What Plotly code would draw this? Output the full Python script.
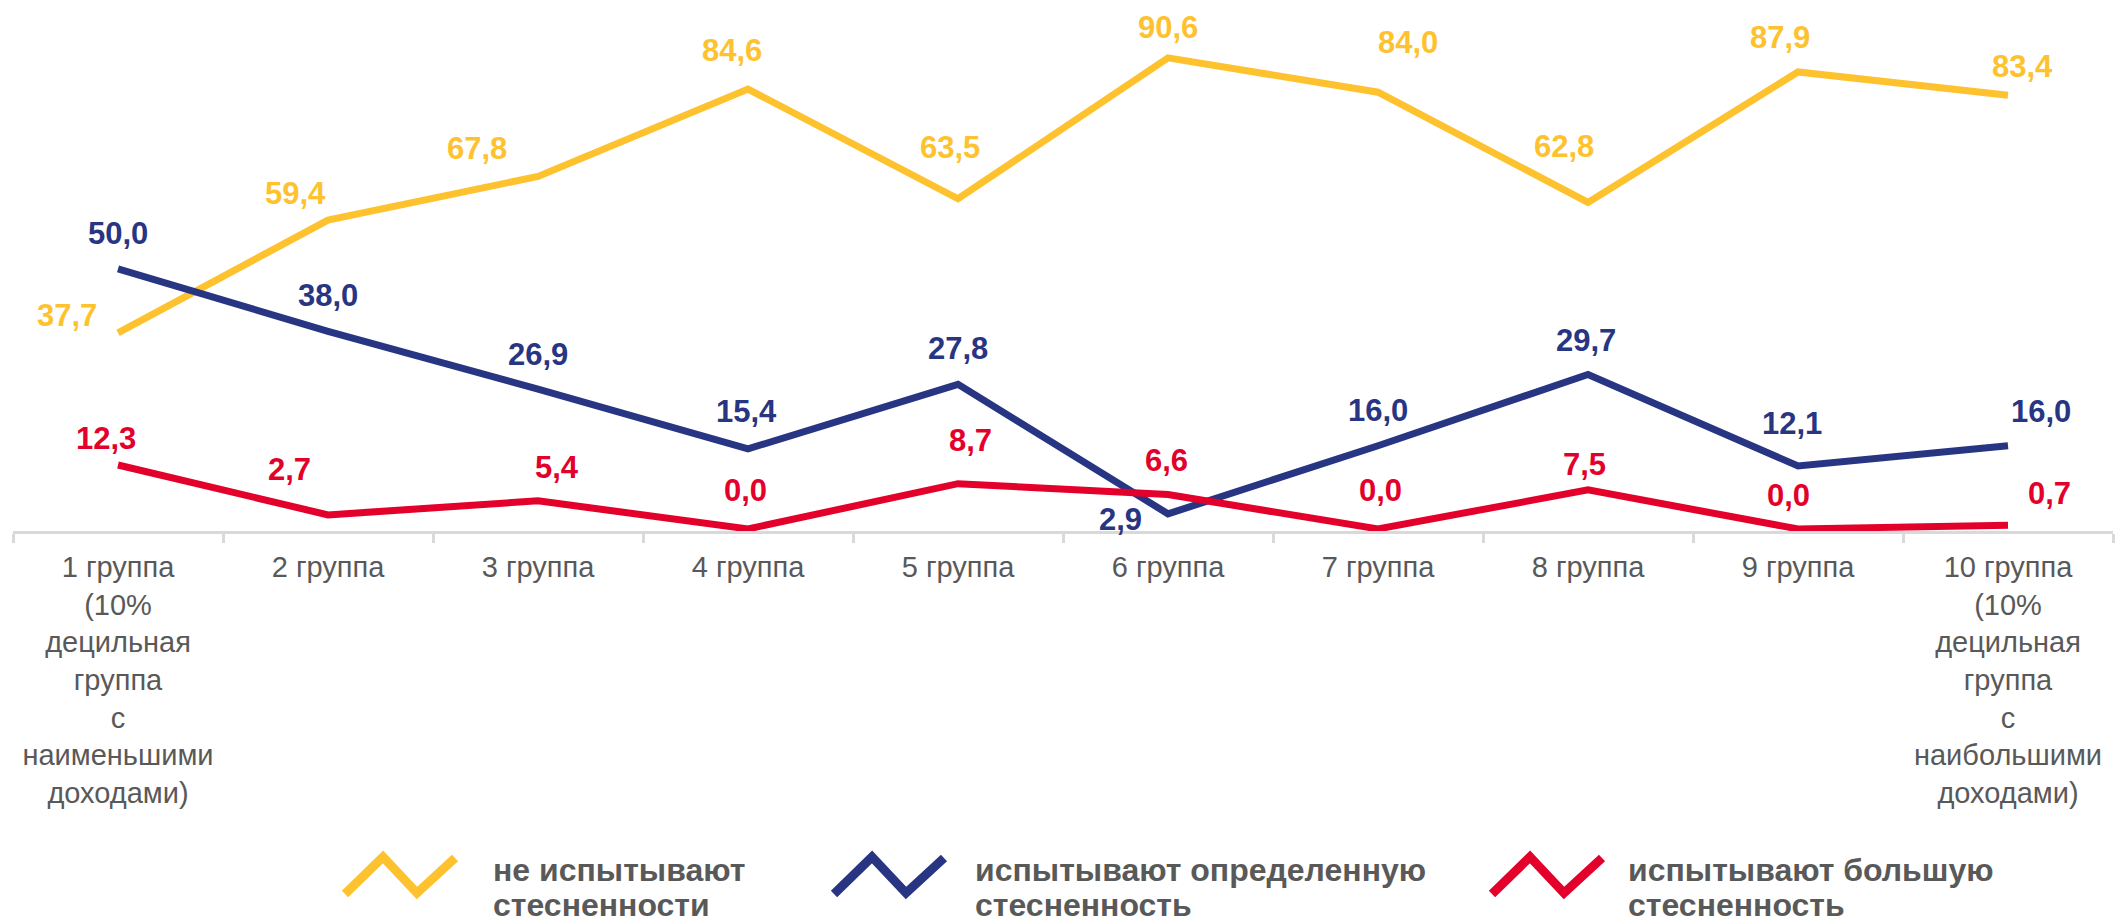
import plotly.graph_objects as go

# ---- data ----
categories = ["1 группа", "2 группа", "3 группа", "4 группа", "5 группа",
              "6 группа", "7 группа", "8 группа", "9 группа", "10 группа"]
tick_labels = [
    "1 группа<br>(10%<br>децильная<br>группа<br>с<br>наименьшими<br>доходами)",
    "2 группа", "3 группа", "4 группа", "5 группа", "6 группа",
    "7 группа", "8 группа", "9 группа",
    "10 группа<br>(10%<br>децильная<br>группа<br>с<br>наибольшими<br>доходами)",
]
series_names = ["не испытывают стесненности",
                "испытывают определенную стесненность",
                "испытывают большую стесненность"]
legend_lines = [["не испытывают", "стесненности"],
                ["испытывают определенную", "стесненность"],
                ["испытывают большую", "стесненность"]]
no_constraint = [37.7, 59.4, 67.8, 84.6, 63.5, 90.6, 84.0, 62.8, 87.9, 83.4]
some_constraint = [50.0, 38.0, 26.9, 15.4, 27.8, 2.9, 16.0, 29.7, 12.1, 16.0]
big_constraint = [12.3, 2.7, 5.4, 0.0, 8.7, 6.6, 0.0, 7.5, 0.0, 0.7]

# ---- styles ----
colors = ["#FEC22F", "#283583", "#E3002B"]
text_gray = "#595959"
FONT = "Liberation Sans, Arial, sans-serif"

# label offsets in px (dx, dy screen; dy negative = up)
label_offsets = [
    [(-51, -17), (-33, -27), (-61, -28), (-16, -39), (-8, -51),
     (0, -30), (30, -50), (-24, -56), (-18, -34), (14, -29)],
    [(0, -35), (0, -36), (0, -35), (-2, -37), (0, -36),
     (-48, 6), (0, -35), (-2, -34), (-6, -43), (33, -34)],
    [(-12, -26), (-39, -45), (19, -33), (-3, -38), (12, -43),
     (-2, -34), (2, -38), (-4, -25), (-10, -33), (41, -32)],
]

W, H = 2123, 919
PAGE_OFF = 8  # default body margin of the html page
ML, MT = 13 - PAGE_OFF, 9 - PAGE_OFF
PW = 2100
PLOT_BOTTOM = 531 - PAGE_OFF
MR = W - ML - PW
MB = H - PLOT_BOTTOM
PH = H - MT - MB


def px(x):
    return (x - PAGE_OFF - ML) / PW


def py(y):
    return (PLOT_BOTTOM - (y - PAGE_OFF)) / PH


fig = go.Figure()
all_series = [no_constraint, some_constraint, big_constraint]
for name, vals, col in zip(series_names, all_series, colors):
    fig.add_trace(go.Scatter(
        x=categories, y=vals, mode="lines", name=name,
        line=dict(color=col, width=7), hoverinfo="skip", showlegend=False,
    ))

annotations = []
for s, (vals, col) in enumerate(zip(all_series, colors)):
    for i, (c, v) in enumerate(zip(categories, vals)):
        dx, dy = label_offsets[s][i]
        annotations.append(dict(
            x=c, y=v, xref="x", yref="y",
            text=f"{v:.1f}".replace(".", ","), showarrow=False,
            xshift=dx, yshift=-dy, borderpad=0,
            font=dict(family=FONT, size=31, color=col, weight="bold"),
        ))

# custom legend: zigzag icons + two-line bold labels
icon_x0 = [345, 834, 1492]
text_x0 = [491, 973, 1626]
icon_dx = [0, 38, 72, 110]
icon_dy = [37, 0, 36, 1]
icon_top = 857
shapes = []
for k in range(3):
    pts = [(px(icon_x0[k] + a), py(icon_top + b)) for a, b in zip(icon_dx, icon_dy)]
    path = "M " + " L ".join(f"{x:.5f},{y:.5f}" for x, y in pts)
    shapes.append(dict(type="path", path=path, xref="paper", yref="paper",
                       line=dict(color=colors[k], width=9)))
    for j, line_y in enumerate([870, 905]):
        annotations.append(dict(
            x=px(text_x0[k]), y=py(line_y), xref="paper", yref="paper",
            xanchor="left", yanchor="middle", showarrow=False,
            text=legend_lines[k][j],
            font=dict(family=FONT, size=32, color=text_gray, weight="bold"),
        ))

fig.update_layout(
    width=W, height=H, autosize=False,
    margin=dict(l=ML, r=MR, t=MT, b=MB),
    paper_bgcolor="white", plot_bgcolor="white",
    showlegend=False,
    annotations=annotations, shapes=shapes,
    xaxis=dict(
        type="category", categoryorder="array", categoryarray=categories,
        tickmode="array", tickvals=categories, ticktext=tick_labels,
        tickson="boundaries", ticks="outside", ticklen=9, tickwidth=3,
        tickcolor="#D9D9D9", showline=True, linecolor="#D9D9D9", linewidth=3,
        showgrid=False, zeroline=False, range=[-0.5, 9.5],
        ticklabelstandoff=8, automargin=False,
        tickfont=dict(family=FONT, size=29, color=text_gray),
    ),
    yaxis=dict(visible=False, range=[-0.4, 100], showgrid=False, zeroline=False),
)

fig.write_html("out.html", config={"displayModeBar": False})
